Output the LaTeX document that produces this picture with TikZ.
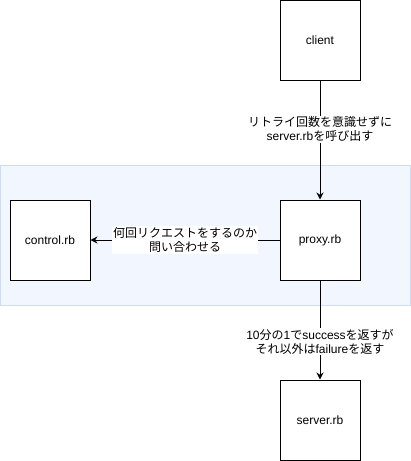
\documentclass[tikz,border=0pt]{standalone}
\usepackage{fontspec}
\setmainfont{Liberation Sans}
\newfontfamily\jpfont{Noto Sans CJK JP}
\newcommand\ja[1]{{\jpfont #1}}
\usetikzlibrary{arrows.meta}
\definecolor{zonefill}{RGB}{242,246,255}
\definecolor{zoneline}{RGB}{208,220,240}

\begin{document}
\begin{tikzpicture}[x=1pt, y=1pt,
    font=\fontsize{12}{14}\selectfont,
    box/.style={rectangle, draw, line width=1pt, minimum width=80pt, minimum height=80pt, inner sep=0, fill=white},
    lbl/.style={fill=white, inner sep=1pt, align=center},
    >={Stealth[length=7pt, width=7pt]}]
    \useasboundingbox (0,0) rectangle (411,-461);
    \draw[zoneline, fill=zonefill] (0.5,-165) rectangle (410.5,-305);
    \draw
    (320,-40)node[box](client){client}
    (320,-240)node[box](proxy){proxy.rb}
    (50,-240)node[box](control){control.rb}
    (320,-420)node[box](server){server.rb}
    ;
    \draw[->, line width=1pt](client)--(proxy)node[lbl, pos=0.41]{\ja{リトライ回数を意識せずに}\\server.rb\ja{を呼び出す}};
    \draw[->, line width=1pt](proxy)--(control)node[lbl, midway]{\ja{何回リクエストをするのか}\\\ja{問い合わせる}};
    \draw[->, line width=1pt](proxy)--(server)node[lbl, pos=0.62]{10\ja{分の}1\ja{で}success\ja{を返すが}\\\ja{それ以外は}failure\ja{を返す}};
\end{tikzpicture}
\end{document}
